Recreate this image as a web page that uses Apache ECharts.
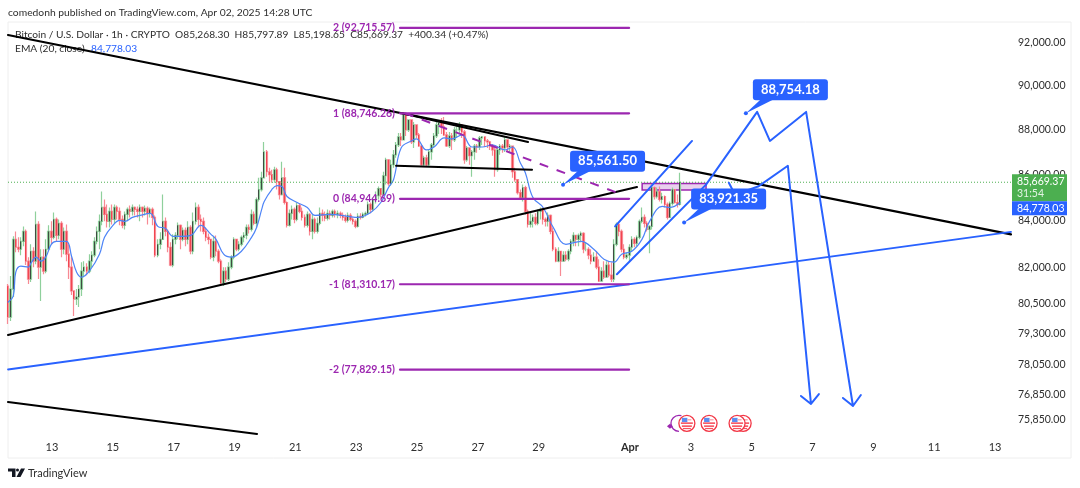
<!DOCTYPE html>
<html lang="en">
<head>
<meta charset="UTF-8" />
<title>BTCUSD 1h</title>
<script src="https://cdn.jsdelivr.net/npm/echarts@6/dist/echarts.min.js"></script>
<style>
  html, body { margin: 0; padding: 0; background: #fff; }
  #chart { width: 1080px; height: 488px; }
</style>
</head>
<body>
<div id="chart"></div>
<script>
// days are counted from Mar 0, so Apr 3 = 34
const xMin = 11.554, xMax = 44.525;
const yMin = 75250, yMax = 92995;
const dayTicks = [13, 15, 17, 19, 21, 23, 25, 27, 29, 32, 34, 36, 38, 40, 42, 44];
const dayLabels = ['13', '15', '17', '19', '21', '23', '25', '27', '29', 'Apr', '3', '5', '7', '9', '11', '13'];
const priceTicks = [92000, 90000, 88000, 86000, 84000, 82000, 80500, 79300, 78050, 76850, 75850];

// two-hour candles, first one at day 11.56
const firstDay = 11.56, stepDay = 1 / 12;
const firstOpen = 81230;
const closes = [
  79955,81110,83200,82865,82780,83115,83540,82275,81525,82695,82275,83840,82025,82445,81855,82780,83540,83285,84055,83370,
  83885,82780,83540,82570,82025,81030,80695,80780,81110,81855,82025,81855,82275,82530,83115,83540,83970,84570,84270,83970,
  84400,84055,84570,84400,84055,83800,84270,84485,84400,84570,84485,84400,84570,84400,84530,84315,84485,84140,82530,82990,
  83200,83970,83540,82865,82110,83200,83370,83800,83200,83585,83200,83710,82695,83970,84570,84055,83970,83540,83285,83200,
  82445,83115,82695,82275,81360,81855,81525,82025,82445,83200,82780,82990,83285,83370,83710,83625,84270,83885,84915,85350,
  85865,87010,86130,86000,85780,86220,85695,85130,85865,84785,83800,84315,84485,84055,84655,84400,84140,83800,84270,83540,
  84055,83540,83885,84315,84225,84100,84315,84225,84400,84270,84315,84225,84140,84010,84225,84055,83970,83755,84185,84140,
  84270,84315,84700,84485,84915,85085,85390,85130,85955,86660,85605,86440,86880,87320,87680,87545,88670,87995,88445,87455,
  88220,87770,87275,86440,86750,86440,87010,87320,87725,88220,88310,88130,87770,87275,87725,87545,87995,87995,88220,87905,
  86660,87190,86840,87010,87275,87230,87635,87680,87500,87455,87275,87100,86220,87100,87275,87190,87545,87230,87275,86130,
  85780,85215,85000,85435,84400,83840,83970,84140,83885,84400,84485,84055,83970,84225,83540,82780,82275,82695,82275,82530,
  82360,82695,83115,83370,83200,83370,83455,82780,82780,82530,82275,82445,82025,81440,81855,81605,82110,81690,81525,82990,
  83840,83540,82780,82445,82530,82865,83200,83030,83285,83970,84140,83885,83625,83755,85435,85045,85260,84915,85045,84700,
  84140,84745,85350,84785,84700,85669
];
const highs = [
  81315,81650,83330,83540,83285,83285,83755,83625,82445,82990,82865,84400,83970,82780,82780,83200,83800,83970,84355,84140,
  84055,83970,83710,83840,82990,82445,81030,81110,81275,82235,82275,82190,82570,82695,83285,83755,84270,85260,84915,84700,
  84570,84700,84700,84655,84570,84225,84400,84570,84655,84700,84615,84615,84700,84615,84655,84615,84570,84570,84225,83200,
  83500,85130,84140,83625,83075,83415,83500,83925,83840,83710,83710,83970,83800,84355,84785,84700,84270,84140,83710,83455,
  83200,83330,83370,82780,82360,82025,82025,82235,82530,83285,83200,83115,83370,83500,83840,83840,84485,84400,85000,85865,
  86130,87455,87100,86310,86220,86350,86310,85695,86570,86310,84830,84485,84655,84570,84785,84745,84570,84270,84400,84315,
  84270,84140,84140,84570,84485,84400,84485,84440,84485,84485,84440,84400,84355,84270,84355,84315,84140,84055,84315,84315,
  84355,84400,84830,84785,85000,85260,85480,85350,86130,86750,86660,86660,87100,87455,87860,87860,88810,88715,88445,88445,
  88355,88220,87860,87320,86840,86880,87100,87410,87860,88355,88445,88535,88580,87905,87905,87860,88130,88265,88355,88265,
  87995,87275,87100,87100,87365,87365,87725,87725,87590,87590,87500,87365,87190,87230,87365,87365,87680,87410,87365,87275,
  86310,85780,85350,85565,85520,84485,84400,84270,84315,84485,84570,84570,84140,84355,84270,83710,82865,82865,82655,82695,
  82695,82780,83200,83500,83370,83455,83540,83500,83075,82865,82780,82655,82695,82360,82025,82275,82275,82275,82235,83200,
  83925,83925,83625,82990,82655,82990,83330,83285,83370,84055,84570,84270,83970,83800,85565,85480,85435,85480,85215,85085,
  84785,84830,85435,85130,85130,86090
];
const lows = [
  79670,79795,80780,82655,82655,82530,82905,82110,81315,81400,82025,82150,81525,80610,81730,81770,82695,82990,83200,83115,
  83200,82445,82570,82275,81525,80860,79995,80450,80365,80820,81605,81690,81770,82025,82445,82990,82780,83800,83970,83710,
  83710,83840,83885,84055,83800,83670,83625,83970,84140,84225,84225,84140,83970,84140,84225,83840,84140,83800,82445,82445,
  82780,83200,83330,82655,82065,82025,82990,83200,82780,83115,82905,82990,82570,82570,83840,83710,83540,83415,83115,82990,
  82360,82275,82485,82190,81235,81235,81400,81440,81940,82360,82695,82695,82905,83075,83200,83455,83540,83800,83710,84830,
  85260,85865,85910,85695,85650,85650,85350,84915,85085,84700,83710,83755,84055,83885,83970,84315,84010,83710,83710,83370,
  83200,83455,83455,83800,83970,83970,84010,84055,84140,84140,84100,84100,84010,83925,83925,83970,83840,83670,83710,84055,
  84100,84185,84270,84315,84400,84745,84915,85000,85085,85565,85520,85520,86310,86750,87230,87275,87545,87725,87905,87365,
  87190,87635,87230,86395,86350,86350,86350,86660,87230,87635,87815,87815,87725,87230,87190,87100,87455,87635,87815,87635,
  86485,86570,86440,85910,86660,86970,87100,87320,87230,87190,87100,86840,85910,86130,86880,86970,87010,87010,87010,85865,
  85695,85130,84915,84830,84270,83710,83710,83710,83800,83800,84055,83840,83755,83755,83415,82695,82235,82235,81650,82275,
  82275,82275,82570,82905,82905,82905,83075,82610,82695,82360,82150,82275,81940,81400,81605,81525,81770,81605,81400,81400,
  82905,83330,82655,82360,82360,82275,82695,82865,82905,83200,83885,83710,83540,82610,83625,84915,84960,84830,84745,84570,
  84055,84140,84655,84745,84570,84655
];

// EMA(20) read at some of the candles
const emaIndex = [0,2,3,5,8,9,11,13,15,17,19,23,25,27,29,32,36,38,41,44,46,49,52,56,59,62,65,68,72,76,80,82,85,88,92,96,98,100,101,104,106,108,110,114,118,121,127,134,138,143,147,150,152,155,159,161,165,168,172,175,179,183,187,191,196,199,202,204,207,211,215,220,226,231,235,239,242,246,250,253,258,261,265];
const emaValues = [80570,80820,81815,82065,82025,82190,82445,82275,82485,82990,83115,83115,82485,81815,81605,81855,82570,83285,83755,84010,83970,84140,84225,84315,83755,83670,83330,83330,83370,83800,83415,83200,82570,82445,82695,83285,83710,84485,84830,85350,85520,85480,85045,84785,84570,84225,84270,84185,84140,84355,84785,85435,85780,87190,87500,87590,87100,87230,87635,87590,87770,87230,87230,87320,87100,87230,86530,86090,85000,84570,83710,82990,83115,82780,82360,82235,82570,82695,83200,83970,84615,84570,84778];

const lastPrice = 85669.37, emaLast = 84778.03;

// drawings as [day, price]
const mainDown = [[11.554, 92378], [44.525, 83415]];
const lowerUp = [[11.554, 79220], [32.23, 85460]];
const bottomLine = [[11.554, 76555], [19.74, 75310]];
const neckLine = [[24.31, 86395], [28.78, 86220]];
const topLine = [[24.51, 88750], [28.65, 87455]];
const dashLine = [[24.6, 88750], [31.57, 85217]];
const blueLong = [[11.554, 77837], [44.525, 83520]];
const channelUp = [[31.51, 83755], [34.04, 87500]];
const channelLow = [[31.57, 81730], [34.5, 85565]];
const pathA = [[34.5, 85565], [36.18, 88810], [36.6, 87500], [37.79, 88810], [39.33, 76395], [39.0, 76709], [39.33, 76395], [39.59, 76827]];
const pathB = [[35.25, 85650], [35.45, 85130], [36.21, 85480], [37.19, 86395], [37.95, 76475], [37.62, 76788], [37.95, 76475], [38.21, 76866]];

const fibDays = [24.44, 31.97];
const fibPrices = [92715.57, 88746.26, 84944.69, 81310.17, 77829.15];
const fibLabels = ['2 (92,715.57)', '1 (88,746.26)', '0 (84,944.69)', '-1 (81,310.17)', '-2 (77,829.15)'];

const zoneDays = [32.4, 34.5];
const zonePrices = [85609, 85330];

const calloutDays = [29.8, 35.81, 33.78];
const calloutPrices = [85561.5, 88754.18, 83921.35];
const calloutTexts = ['85,561.50', '88,754.18', '83,921.35'];

const flagDays = [33.87, 34.6, 35.52, 35.72];
const eventPrice = 75720;
const moonDay = 33.61;

const BLUE = '#2962ff', PURPLE = '#9c27b0', TEXT = '#2e2e2e';
const FONT = 'Lato, sans-serif';

const candles = closes.map((c, i) => [firstDay + i * stepDay, i ? closes[i - 1] : firstOpen, c, lows[i], highs[i]]);
const bodies = candles.map(d => [d[0], d[1], d[2], Math.min(d[1], d[2]), Math.max(d[1], d[2])]);
const ema = emaIndex.map((k, i) => [firstDay + k * stepDay, emaValues[i]]);

function lineSeries(data, color, width, extra) {
  return Object.assign({
    type: 'line', data, symbol: 'none', silent: true, z: 5,
    lineStyle: { color, width, cap: 'round', join: 'round' }
  }, extra || {});
}

function drawCallout(params, api) {
  const p = api.coord([api.value(0), api.value(1)]);
  const i = params.dataIndex;
  return { type: 'group', children: [
    { type: 'polygon', shape: { points: [p, [p[0] + 15, p[1] - 14], [p[0] + 28, p[1] - 14]] }, style: { fill: BLUE } },
    { type: 'circle', shape: { cx: p[0], cy: p[1], r: 2 }, style: { fill: BLUE } },
    { type: 'rect', shape: { x: p[0] + 7, y: p[1] - 34, width: 75, height: 21, r: 3 }, style: { fill: BLUE } },
    { type: 'text', style: { x: p[0] + 44.5, y: p[1] - 23.5, text: calloutTexts[i], fill: '#fff', align: 'center', verticalAlign: 'middle', font: 'bold 13px ' + FONT } }
  ] };
}

function drawFibLabel(params, api) {
  const p = api.coord([api.value(0), api.value(1)]);
  return { type: 'text', style: { x: p[0] - 5, y: p[1], text: fibLabels[params.dataIndex], fill: PURPLE, align: 'right', verticalAlign: 'middle', font: 'bold 10.5px ' + FONT } };
}

function drawPriceTags(params, api) {
  const g = api.coord([xMax, lastPrice]);
  const b = api.coord([xMax, emaLast]);
  return { type: 'group', children: [
    { type: 'rect', shape: { x: g[0] + 1, y: g[1] - 8, width: 55, height: 27 }, style: { fill: '#4caf50' } },
    { type: 'text', style: { x: g[0] + 6, y: g[1] - 1, text: '85,669.37', fill: '#fff', verticalAlign: 'middle', font: '10.5px ' + FONT } },
    { type: 'text', style: { x: g[0] + 6, y: g[1] + 11, text: '31:54', fill: '#e3f3e4', verticalAlign: 'middle', font: '10.5px ' + FONT } },
    { type: 'rect', shape: { x: b[0] + 1, y: g[1] + 19, width: 55, height: 14 }, style: { fill: BLUE } },
    { type: 'text', style: { x: b[0] + 6, y: g[1] + 26, text: '84,778.03', fill: '#fff', verticalAlign: 'middle', font: '10.5px ' + FONT } }
  ] };
}

function drawFlag(params, api) {
  const p = api.coord([api.value(0), eventPrice]);
  const x = p[0], y = p[1];
  return { type: 'group', children: [
    { type: 'circle', shape: { cx: x, cy: y, r: 8 }, style: { fill: '#fff', stroke: '#f23645', lineWidth: 1.3 } },
    { type: 'rect', shape: { x: x - 6, y: y - 1, width: 12, height: 1.6 }, style: { fill: '#f7525f' } },
    { type: 'rect', shape: { x: x - 5, y: y + 2, width: 10, height: 1.6 }, style: { fill: '#f7525f' } },
    { type: 'rect', shape: { x: x - 4, y: y + 4.6, width: 8, height: 1.2 }, style: { fill: '#f7525f' } },
    { type: 'rect', shape: { x: x - 5, y: y - 5.5, width: 5.5, height: 4.2 }, style: { fill: '#5b8def' } },
    { type: 'rect', shape: { x: x + 0.5, y: y - 4.2, width: 4, height: 1.3 }, style: { fill: '#f7a0a8' } }
  ] };
}

function drawMoon(params, api) {
  const p = api.coord([api.value(0), eventPrice]);
  return { type: 'group', children: [
    { type: 'arc', shape: { cx: p[0], cy: p[1], r: 8, startAngle: Math.PI * 0.5, endAngle: Math.PI * 1.6, clockwise: true },
      style: { fill: null, stroke: PURPLE, lineWidth: 1.3 } },
    { type: 'polygon', shape: { points: [[p[0] - 12, p[1] + 3], [p[0] - 9, p[1] + 0.5], [p[0] - 6, p[1] + 3], [p[0] - 9, p[1] + 5.5]] }, style: { fill: PURPLE } }
  ] };
}

const series = [
  // wide pale candles first, thin bodies over them
  { type: 'candlestick', data: candles, barWidth: 2, silent: true, z: 2,
    itemStyle: { color: '#8fd09c', color0: '#f78a94', borderColor: '#8fd09c', borderColor0: '#f78a94', borderWidth: 1.2 } },
  { type: 'candlestick', data: bodies, barWidth: 1, silent: true, z: 3,
    itemStyle: { color: '#2a2a2a', color0: '#f0343f', borderColor: '#2a2a2a', borderColor0: '#f0343f', borderWidth: 0.8 } },
  lineSeries(ema, '#4d84f7', 1.2, { smooth: 0.4, z: 4 }),
  lineSeries([[xMin, lastPrice], [xMax, lastPrice]], '#4caf50', 1, { z: 4, lineStyle: { color: '#4caf50', width: 1, type: [1, 2] } }),
  lineSeries(mainDown, '#000', 2.2),
  lineSeries(lowerUp, '#000', 2),
  lineSeries(bottomLine, '#000', 2),
  lineSeries(neckLine, '#000', 2),
  lineSeries(topLine, '#000', 2),
  lineSeries(dashLine, PURPLE, 2, { lineStyle: { color: PURPLE, width: 2, type: [9, 9] } }),
  lineSeries(blueLong, BLUE, 1.8),
  lineSeries(channelUp, BLUE, 2),
  lineSeries(channelLow, BLUE, 2),
  lineSeries(pathA, BLUE, 2),
  lineSeries(pathB, BLUE, 2),
  lineSeries([], PURPLE, 1, {
    markArea: { silent: true, itemStyle: { color: 'rgba(156,39,176,0.22)', borderColor: PURPLE, borderWidth: 1.5 },
      data: [[{ coord: [zoneDays[0], zonePrices[0]] }, { coord: [zoneDays[1], zonePrices[1]] }]] }
  })
];

fibPrices.forEach(price => {
  series.push(lineSeries([[fibDays[0], price], [fibDays[1], price]], PURPLE, 2.2, { z: 6 }));
});

series.push(
  { type: 'custom', data: fibPrices.map(p => [fibDays[0], p]), encode: { x: 0, y: 1 }, renderItem: drawFibLabel, silent: true, z: 7 },
  { type: 'custom', data: calloutDays.map((d, i) => [d, calloutPrices[i]]), encode: { x: 0, y: 1 }, renderItem: drawCallout, silent: true, z: 8 },
  { type: 'custom', data: [[xMax, lastPrice]], encode: { x: 0, y: 1 }, renderItem: drawPriceTags, silent: true, z: 8 },
  { type: 'custom', data: [[moonDay, eventPrice]], encode: { x: 0, y: 1 }, renderItem: drawMoon, silent: true, z: 7 },
  { type: 'custom', data: flagDays.slice().reverse().map(d => [d, eventPrice]), encode: { x: 0, y: 1 }, renderItem: drawFlag, silent: true, z: 7 }
);

const chart = echarts.init(document.getElementById('chart'), null, { renderer: 'canvas' });
chart.setOption({
  animation: false,
  backgroundColor: '#fff',
  grid: { left: 8, top: 22, width: 1003, height: 413.5 },
  xAxis: {
    type: 'value', min: xMin, max: xMax,
    axisLine: { show: false }, axisTick: { show: false }, splitLine: { show: false },
    axisLabel: {
      customValues: dayTicks, margin: 6, color: TEXT, fontSize: 11, fontFamily: FONT,
      formatter: v => {
        const s = dayLabels[dayTicks.indexOf(v)];
        return s === 'Apr' ? '{b|Apr}' : s;
      },
      rich: { b: { fontWeight: 'bold', fontSize: 11, fontFamily: FONT, color: TEXT } }
    }
  },
  yAxis: {
    type: 'log', logBase: 10, position: 'right', min: yMin, max: yMax,
    axisLine: { show: false }, axisTick: { show: false }, splitLine: { show: false }, minorSplitLine: { show: false },
    axisLabel: {
      customValues: priceTicks, margin: 7, color: TEXT, fontSize: 10.5, fontFamily: FONT,
      formatter: v => Math.round(v).toLocaleString('en-US') + '.00'
    }
  },
  graphic: [
    { type: 'rect', z: 0, shape: { x: 8, y: 22, width: 1063, height: 436 }, style: { fill: null, stroke: '#eeeeee', lineWidth: 1 } },
    { type: 'text', z: 1, style: { x: 8, y: 13, text: 'comedonh published on TradingView.com, Apr 02, 2025 14:28 UTC', fill: '#2e2e2e', verticalAlign: 'middle', font: '10.3px ' + FONT } },
    { type: 'text', z: 1, style: { x: 15, y: 35, text: 'Bitcoin / U.S. Dollar · 1h · CRYPTO  O85,268.30  H85,797.89  L85,198.65  C85,669.37  +400.34 (+0.47%)', fill: '#2e2e2e', verticalAlign: 'middle', font: '10.2px ' + FONT } },
    { type: 'text', z: 1, style: { x: 15, y: 49, text: 'EMA (20, close)', fill: '#2e2e2e', verticalAlign: 'middle', font: '10.2px ' + FONT } },
    { type: 'text', z: 1, style: { x: 91, y: 49, text: '84,778.03', fill: BLUE, verticalAlign: 'middle', font: '10.2px ' + FONT } },
    // TradingView logo
    { type: 'polygon', z: 1, shape: { points: [[8, 468.5], [15.5, 468.5], [15.5, 477], [12, 477], [12, 471.5], [8, 471.5]] }, style: { fill: '#131722' } },
    { type: 'circle', z: 1, shape: { cx: 17.5, cy: 470, r: 1.5 }, style: { fill: '#131722' } },
    { type: 'polygon', z: 1, shape: { points: [[21, 468.5], [25, 468.5], [20.5, 477], [16.5, 477]] }, style: { fill: '#131722' } },
    { type: 'text', z: 1, style: { x: 28, y: 473, text: 'TradingView', fill: '#2e2e2e', verticalAlign: 'middle', font: '11px ' + FONT } }
  ],
  series
});
</script>
</body>
</html>
